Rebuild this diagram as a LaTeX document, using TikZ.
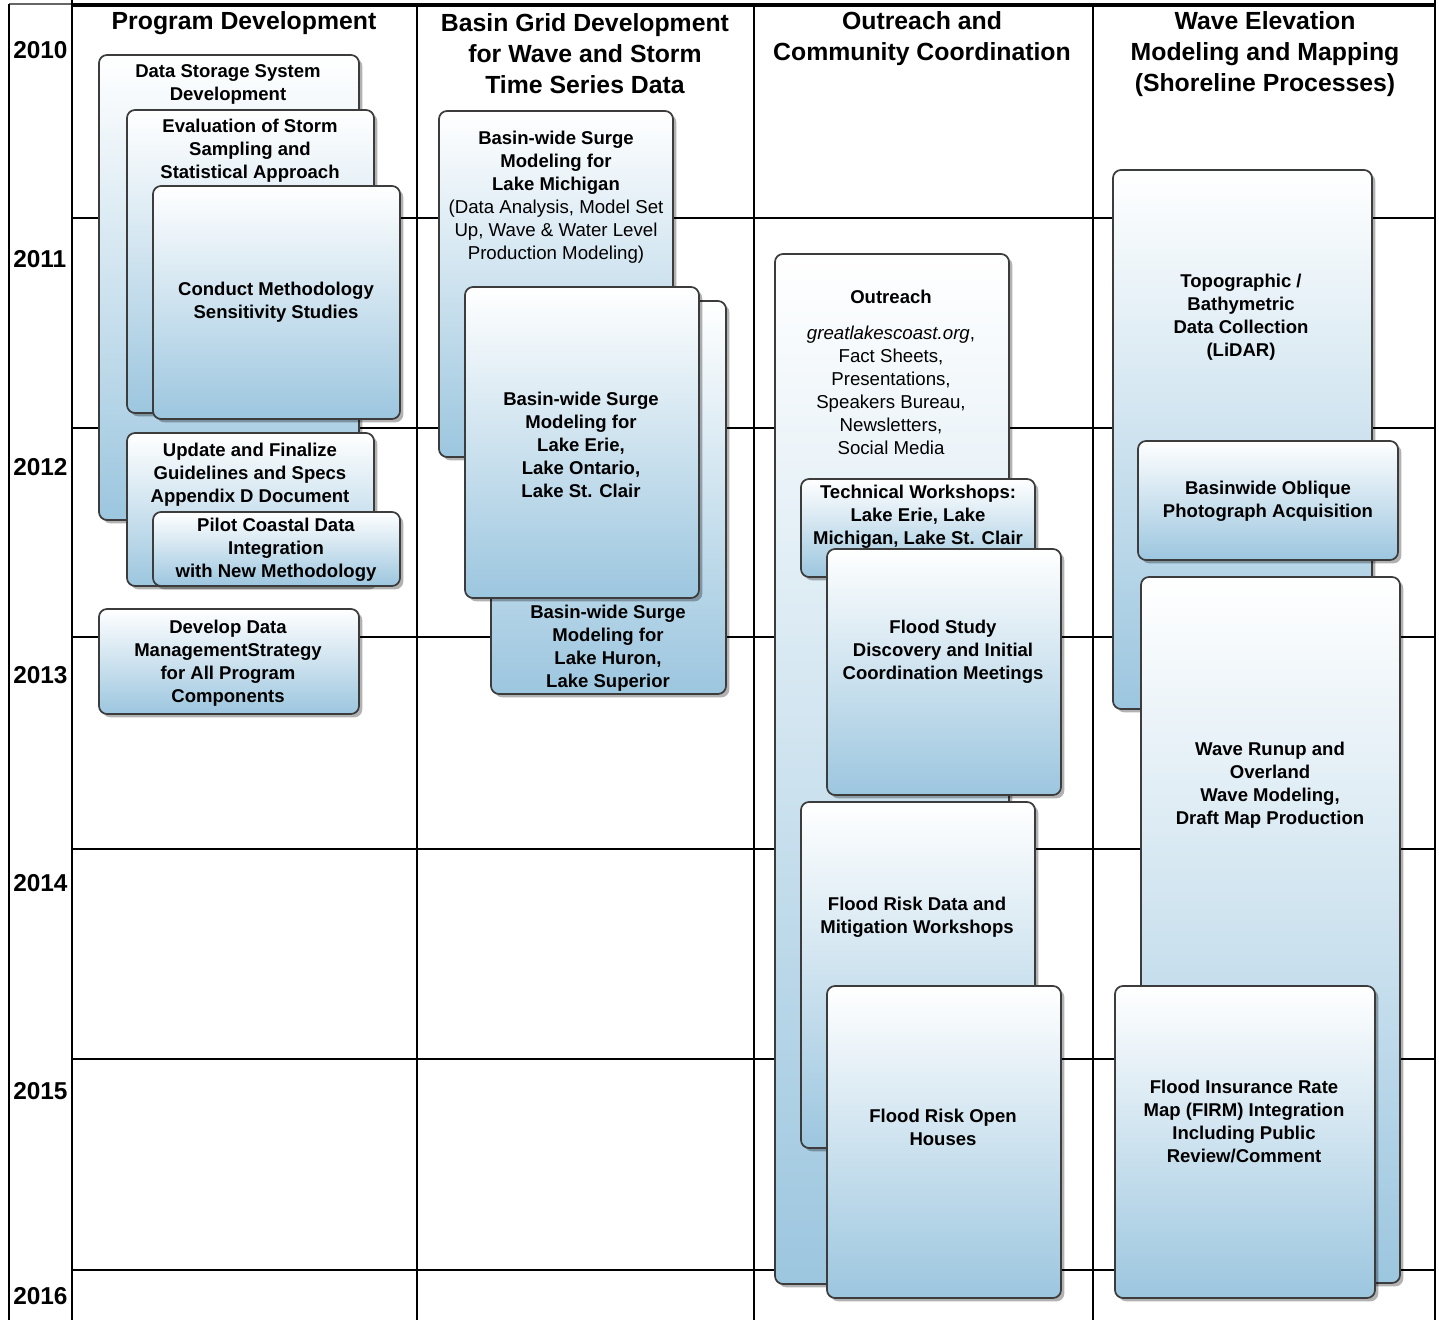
\documentclass[tikz,border=0pt]{standalone}
\usepackage{fontspec}
\setmainfont{Liberation Sans}
\usetikzlibrary{shadows,fit}
\definecolor{boxblue}{RGB}{156,198,223}
\definecolor{boxedge}{RGB}{60,60,60}
\begin{document}
\begin{tikzpicture}[x=0.75pt,y=-0.75pt,
  tbox/.style={draw=boxedge, line width=1.3pt, rounded corners=6pt,
    top color=white, bottom color=boxblue, inner sep=0pt,
    drop shadow={shadow xshift=2.5pt, shadow yshift=-2.5pt, fill=black, opacity=0.3}},
  txt/.style={align=center, inner sep=0pt, text=black, yshift=-1.5pt,
    font=\fontsize{13.9}{17.25}\selectfont\bfseries},
  rtxt/.style={align=center, inner sep=0pt, text=black, yshift=-1.5pt,
    font=\fontsize{14}{17.25}\selectfont},
  head/.style={align=center, inner sep=0pt, text=black, yshift=0pt,
    font=\fontsize{18.6}{23.25}\selectfont\bfseries},
  year/.style={anchor=west, inner sep=0pt, text=black,
    font=\fontsize{18.3}{20}\selectfont\bfseries},
  grid/.style={line width=1.5pt, black}]
\useasboundingbox (0,0) rectangle (1439,1320);
\fill[white] (0,0) rectangle (1439,1320);
% ---- grid ----
\draw[line width=1pt, black!60] (9,4) -- (72,4);
\draw[grid] (9,4) -- (9,1320);
\draw[grid] (72,0) -- (72,1320);
\draw[line width=3pt] (72,5) -- (1435,5);
\foreach \xx in {417,754,1093} \draw[grid] (\xx,5) -- (\xx,1320);
\draw[grid] (1435,0) -- (1435,1320);
\foreach \yy in {218,428,637,849,1059,1270} \draw[grid] (72,\yy) -- (1435,\yy);
% ---- years ----
\node[year] (y2010) at (13,50) {2010};
\node[year] (y2011) at (13,259) {2011};
\node[year] (y2012) at (13,467) {2012};
\node[year] (y2013) at (13,675) {2013};
\node[year] (y2014) at (13,883) {2014};
\node[year] (y2015) at (13,1091) {2015};
\node[year] (y2016) at (13,1296) {2016};
% ---- headers ----
\node[head] (h1) at (244,23) {Program Development};
\node[head] (h2) at (585,54) {Basin Grid Development\\for Wave and Storm\\Time Series Data};
\node[head] (h3) at (922,38.5) {Outreach and\\Community Coordination};
\node[head] (h4) at (1265,54) {Wave Elevation\\Modeling and Mapping\\(Shoreline Processes)};
% ---- column 1 ----
\node[tbox, fit={(99,55) (359,520)}] (A) {};
\node[txt] (At) at (228,82.5) {Data Storage System\\Development};
\node[tbox, fit={(127,110) (374,413)}] (B) {};
\node[txt] (Bt) at (250,149) {Evaluation of Storm\\Sampling and\\Statistical Approach};
\node[tbox, fit={(153,186) (400,419)}] (C) {};
\node[txt] (Ct) at (276,300.5) {Conduct Methodology\\Sensitivity Studies};
\node[tbox, fit={(127,433) (374,586)}] (D) {};
\node[txt] (Dt) at (250,473) {Update and Finalize\\Guidelines and Specs\\Appendix D Document};
\node[tbox, fit={(153,512) (400,586)}] (E) {};
\node[txt] (Et) at (276,548) {Pilot Coastal Data\\Integration\\with New Methodology};
\node[tbox, fit={(99,609) (359,714)}] (F) {};
\node[txt] (Ft) at (228,661) {Develop Data\\ManagementStrategy\\for All Program\\Components};
% ---- column 2 ----
\node[tbox, fit={(439,111) (673,457)}] (G) {};
\node[txt] (Gt) at (556,161) {Basin-wide Surge\\Modeling for\\Lake Michigan};
\node[rtxt] (Gt2) at (556,230) {(Data Analysis, Model Set\\Up, Wave \& Water Level\\Production Modeling)};
\node[tbox, fit={(491,301) (726,694)}] (H) {};
\node[txt] (Ht) at (608,646.5) {Basin-wide Surge\\Modeling for\\Lake Huron,\\Lake Superior};
\node[tbox, fit={(465,287) (699,598)}] (I) {};
\node[txt] (It) at (581,443) {Basin-wide Surge\\Modeling for\\Lake Erie,\\Lake Ontario,\\Lake St. Clair};
% ---- column 3 ----
\node[tbox, fit={(775,254) (1009,1284)}] (J) {};
\node[txt] (Jt) at (891,295) {Outreach};
\node[rtxt] (Jt2) at (891,388.5) {\itshape greatlakescoast.org\upshape,\\Fact Sheets,\\Presentations,\\Speakers Bureau,\\Newsletters,\\Social Media};
\node[tbox, fit={(801,479) (1035,577)}] (K) {};
\node[txt] (Kt) at (918,515) {Technical Workshops:\\Lake Erie, Lake\\Michigan, Lake St. Clair};
\node[tbox, fit={(827,549) (1061,795)}] (L) {};
\node[txt] (Lt) at (943,650) {Flood Study\\Discovery and Initial\\Coordination Meetings};
\node[tbox, fit={(801,802) (1035,1148)}] (M) {};
\node[txt] (Mt) at (917,915.5) {Flood Risk Data and\\Mitigation Workshops};
\node[tbox, fit={(827,986) (1061,1298)}] (N) {};
\node[txt] (Nt) at (943,1125.5) {Flood Risk Open\\Houses};
% ---- column 4 ----
\node[tbox, fit={(1113,170) (1372,709)}] (O) {};
\node[txt] (Ot) at (1241,315.5) {Topographic /\\Bathymetric\\Data Collection\\(LiDAR)};
\node[tbox, fit={(1138,441) (1398,560)}] (P) {};
\node[txt] (Pt) at (1268,499.5) {Basinwide Oblique\\Photograph Acquisition};
\node[tbox, fit={(1141,577) (1400,1283)}] (Q) {};
\node[txt] (Qt) at (1270,783.5) {Wave Runup and\\Overland\\Wave Modeling,\\Draft Map Production};
\node[tbox, fit={(1115,986) (1375,1298)}] (R) {};
\node[txt] (Rt) at (1244,1119.5) {Flood Insurance Rate\\Map (FIRM) Integration\\Including Public\\Review/Comment};
\end{tikzpicture}
\end{document}
